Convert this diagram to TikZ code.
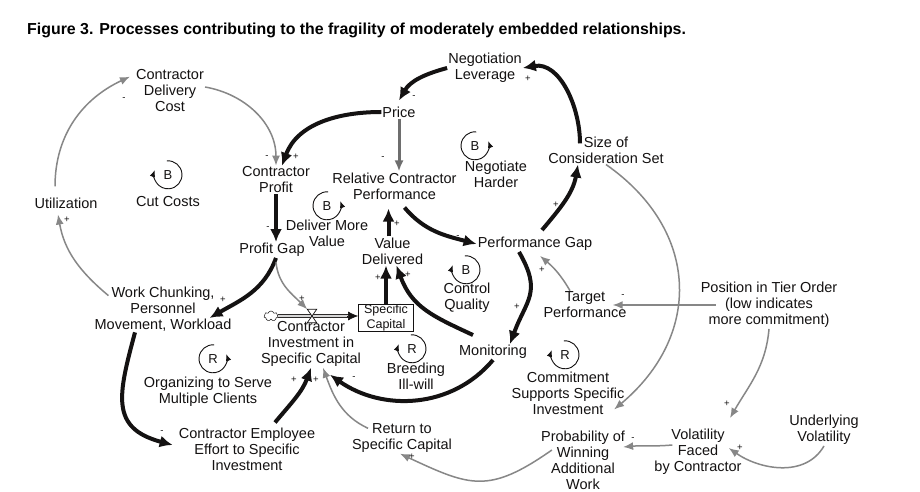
\documentclass[tikz,border=0pt]{standalone}
\usepackage{fontspec}
\setmainfont{Liberation Sans}
\usepackage{xcolor}
\usepackage{tikz}
\usetikzlibrary{arrows.meta,shapes.symbols}
\definecolor{inkcol}{RGB}{20,18,18}
\definecolor{linkcol}{RGB}{135,135,135}
\definecolor{pricecol}{RGB}{110,110,110}
\definecolor{pipecol}{RGB}{215,215,215}

\begin{document}
\begin{tikzpicture}[
  x=1pt, y=1pt,
  var/.style={align=center, inner sep=1pt, text=inkcol, font=\fontsize{14.5}{16}\selectfont},
  stockbox/.style={draw=inkcol, line width=0.8pt, align=center, inner sep=0pt,
              minimum width=55pt, minimum height=27pt, text=inkcol, font=\fontsize{12.5}{15}\selectfont},
  lp/.style={circle, inner sep=0pt, minimum size=28pt, text=inkcol, font=\fontsize{13}{13}\selectfont},
  lparr/.style={inkcol, line width=0.9pt, -{Latex[length=7pt,width=5.5pt]}},
  strong/.style={inkcol, line width=4pt, -{Latex[length=13pt,width=12pt]}},
  midlink/.style={pricecol, line width=3pt, -{Latex[length=11pt,width=9pt]}},
  weak/.style={linkcol, line width=1.5pt, -{Latex[length=10pt,width=8pt]}},
  pol/.style={inner sep=0pt, text=inkcol, font=\fontsize{9.5}{9.5}\selectfont},
  pipe/.style={draw=inkcol, double=pipecol, double distance=2.4pt, line width=0.7pt}
]
\fill[white] (0,0) rectangle (920,492);
\useasboundingbox (0,0) rectangle (920,492);

\node[anchor=base west, inner sep=0pt, text=black, font=\bfseries\fontsize{15.9}{18}\selectfont] (title) at (27,457)
  {Figure 3. Processes contributing to the fragility of moderately embedded relationships.};

% variables
\node[var] (lev) at (485,424) {Negotiation\\Leverage};
\node[var] (price) at (399,380) {Price};
\node[var] (cost) at (170,401) {Contractor\\Delivery\\Cost};
\node[var] (profit) at (276,312) {Contractor\\Profit};
\node[var] (util) at (66,289) {Utilization};
\node[var] (rcp) at (394.5,306) {Relative Contractor\\Performance};
\node[var] (size) at (606,342) {Size of\\Consideration Set};
\node[var] (gap) at (272,242) {Profit Gap};
\node[var] (value) at (392.5,241) {Value\\Delivered};
\node[var] (perfgap) at (535,248) {Performance Gap};
\node[var] (target) at (585,187) {Target\\Performance};
\node[var] (tier) at (769,187) {Position in Tier Order\\(low indicates\\more commitment)};
\node[var] (chunk) at (163,183) {Work Chunking,\\Personnel\\Movement, Workload};
\node[stockbox] (stock) at (386,174) {Specific\\Capital};
\node[var] (invest) at (311,148) {Contractor\\Investment in\\Specific Capital};
\node[var] (monitor) at (493,140) {Monitoring};
\node[var] (effort) at (247,43) {Contractor Employee\\Effort to Specific\\Investment};
\node[var] (ret) at (402,54) {Return to\\Specific Capital};
\node[var] (prob) at (583,32) {Probability of\\Winning\\Additional\\Work};
\node[var] (vol) at (698,40) {Volatility\\Faced\\by Contractor};
\node[var] (under) at (824,62) {Underlying\\Volatility};

% flow into the stock
\node[cloud, draw=inkcol, line width=0.5pt, cloud puffs=7, aspect=1.4, inner sep=0pt,
      minimum width=14pt, minimum height=10pt] (src) at (271,176) {};
\node[inner sep=0pt, minimum width=9pt, minimum height=13pt] (valve) at (312,176) {};
\coordinate (pipeend) at (stock.west |- src);
\draw[pipe] (src.east) -- ([xshift=-9pt]pipeend);
\draw[inkcol, line width=0.6pt, -{Latex[length=10pt,width=9pt]}] ([xshift=-11pt]pipeend) -- (pipeend);
\draw[inkcol, line width=0.7pt, fill=white] (valve.north west) -- (valve.north east)
  -- (valve.south west) -- (valve.south east) -- cycle;

% loops
\node[lp] (lcut) at (168,317) {B};
\node[var] (lcutname) at (168,290) {Cut Costs};
\draw[lparr] (lcut.95) arc[start angle=95, end angle=-200, radius=14pt];
\node[lp] (lneg) at (475,346) {B};
\node[var] (lnegname) at (496,318) {Negotiate\\Harder};
\draw[lparr] (lneg.85) arc[start angle=85, end angle=380, radius=14pt];
\node[lp] (lmore) at (327,286) {B};
\node[var] (lmorename) at (327,259) {Deliver More\\Value};
\draw[lparr] (lmore.85) arc[start angle=85, end angle=380, radius=14pt];
\node[lp] (lqual) at (466,222) {B};
\node[var] (lqualname) at (467,194) {Control\\Quality};
\draw[lparr] (lqual.95) arc[start angle=95, end angle=-200, radius=14pt];
\node[lp] (lill) at (412,143) {R};
\node[var] (lillname) at (416,116) {Breeding\\Ill-will};
\draw[lparr] (lill.95) arc[start angle=95, end angle=-200, radius=14pt];
\node[lp] (lcommit) at (565,137) {R};
\node[var] (lcommitname) at (568,99) {Commitment\\Supports Specific\\Investment};
\draw[lparr] (lcommit.95) arc[start angle=95, end angle=-200, radius=14pt];
\node[lp] (lserve) at (213,133) {R};
\node[var] (lservename) at (208,100) {Organizing to Serve\\Multiple Clients};
\draw[lparr] (lserve.85) arc[start angle=85, end angle=380, radius=14pt];

% strong links
\draw[strong] (lev.west) to[out=195,in=60] ([yshift=5pt]price.north) node[pol] at (414,395) {-};
\draw[strong] ([xshift=-26pt,yshift=-8pt]size.north) to[out=90,in=10] (lev.east) node[pol] at (528,413) {+};
\draw[strong] (price.west) to[out=180,in=70] ([xshift=6pt]profit.north) node[pol] at (296,335) {+};
\draw[strong] (profit.south) -- (profit.south |- gap.north) node[pol] at (268,264) {-};
\draw[strong] ([xshift=10pt,yshift=-7pt]rcp.south) to[out=-50,in=165] (perfgap.west) node[pol] at (458,255) {-};
\draw[strong] ([xshift=7pt,yshift=6pt]perfgap.north) to[out=50,in=-100] ([xshift=-28pt]size.south) node[pol] at (556,287) {+};
\draw[strong] ([xshift=-4pt]value.north) -- ([xshift=-6pt,yshift=-8pt]rcp.south) node[pol] at (397,268) {+};
\draw[strong] ([xshift=-16pt]perfgap.south) to[out=-60,in=70,looseness=1.3] ([xshift=17pt]monitor.north) node[pol] at (517,185) {+};
\draw[strong] ([xshift=4pt]gap.south) to[out=-110,in=30] ([xshift=-23pt,yshift=-9pt]chunk.east) node[pol] at (223,192) {+};
\draw[strong] ([xshift=-28pt]chunk.south) to[out=-105,in=165,looseness=1.4] ([xshift=-5pt,yshift=4pt]effort.west) node[pol] at (162,60) {-};
\draw[strong] ([xshift=28pt,yshift=4pt]effort.north) to[out=50,in=-110] (invest.south) node[pol] at (294,112) {+};
\draw[strong] (monitor.south) to[out=-130,in=-35] ([xshift=19pt,yshift=-7pt]invest.south) node[pol] at (354,114) {-};
\draw[strong] ([xshift=-20pt,yshift=9pt]monitor.north) to[out=155,in=-70,looseness=1.1] ([xshift=4pt]value.south) node[pol] at (408,217) {+};
\draw[strong] (stock.north) -- ([xshift=-6.5pt]value.south) node[pol] at (378,214) {+};
\draw[midlink] (price.south) -- (price.south |- rcp.north) node[pol] at (383,334) {-};

% weak links
\draw[weak] ([yshift=4pt]cost.east) to[out=-10,in=90] (profit.north) node[pol] at (267,335) {-};
\draw[weak] ([xshift=-15pt]target.north) to[out=120,in=-40] ([xshift=5pt,yshift=-4pt]perfgap.south) node[pol] at (542,222) {+};
\draw[weak] ([xshift=16pt]tier.west) -- ([xshift=-15pt]target.east) node[pol] at (623,196) {-};
\draw[weak] ([xshift=4pt,yshift=-4pt]gap.south) to[out=-85,in=135] (valve.north west) node[pol] at (302,193) {+};
\draw[weak] ([xshift=15pt,yshift=-10pt]chunk.north west) to[out=140,in=-80] ([xshift=-8pt,yshift=-5pt]util.south) node[pol] at (67,272) {+};
\draw[weak] ([xshift=-11pt,yshift=10pt]util.north) to[out=90,in=205] ([xshift=-5pt,yshift=-8pt]cost.north west) node[pol] at (124,393) {-};
\draw[weak] ([xshift=-34pt,yshift=-6pt]ret.north) to[out=155,in=-70] ([xshift=12pt]invest.south) node[pol] at (316,112) {+};
\draw[weak] (size.south) to[out=-35,in=40,looseness=1.2] ([xshift=-12pt,yshift=20pt]prob.north east);
\draw[weak] (tier.south) to[out=-95,in=60] ([xshift=32pt,yshift=10pt]vol.north) node[pol] at (727,88) {+};
\draw[weak] (under.south) to[out=-120,in=-35] ([xshift=-14pt,yshift=4pt]vol.east) node[pol] at (740,44) {+};
\draw[weak] ([xshift=19pt,yshift=7pt]vol.west) to[out=185,in=5] ([xshift=-3pt,yshift=13pt]prob.east) node[pol] at (633,53) {-};
\draw[weak] ([xshift=12pt,yshift=10pt]prob.west) to[out=-145,in=-25,looseness=1.3] ([xshift=-2pt]ret.south) node[pol] at (412,35) {+};
\end{tikzpicture}
\end{document}
